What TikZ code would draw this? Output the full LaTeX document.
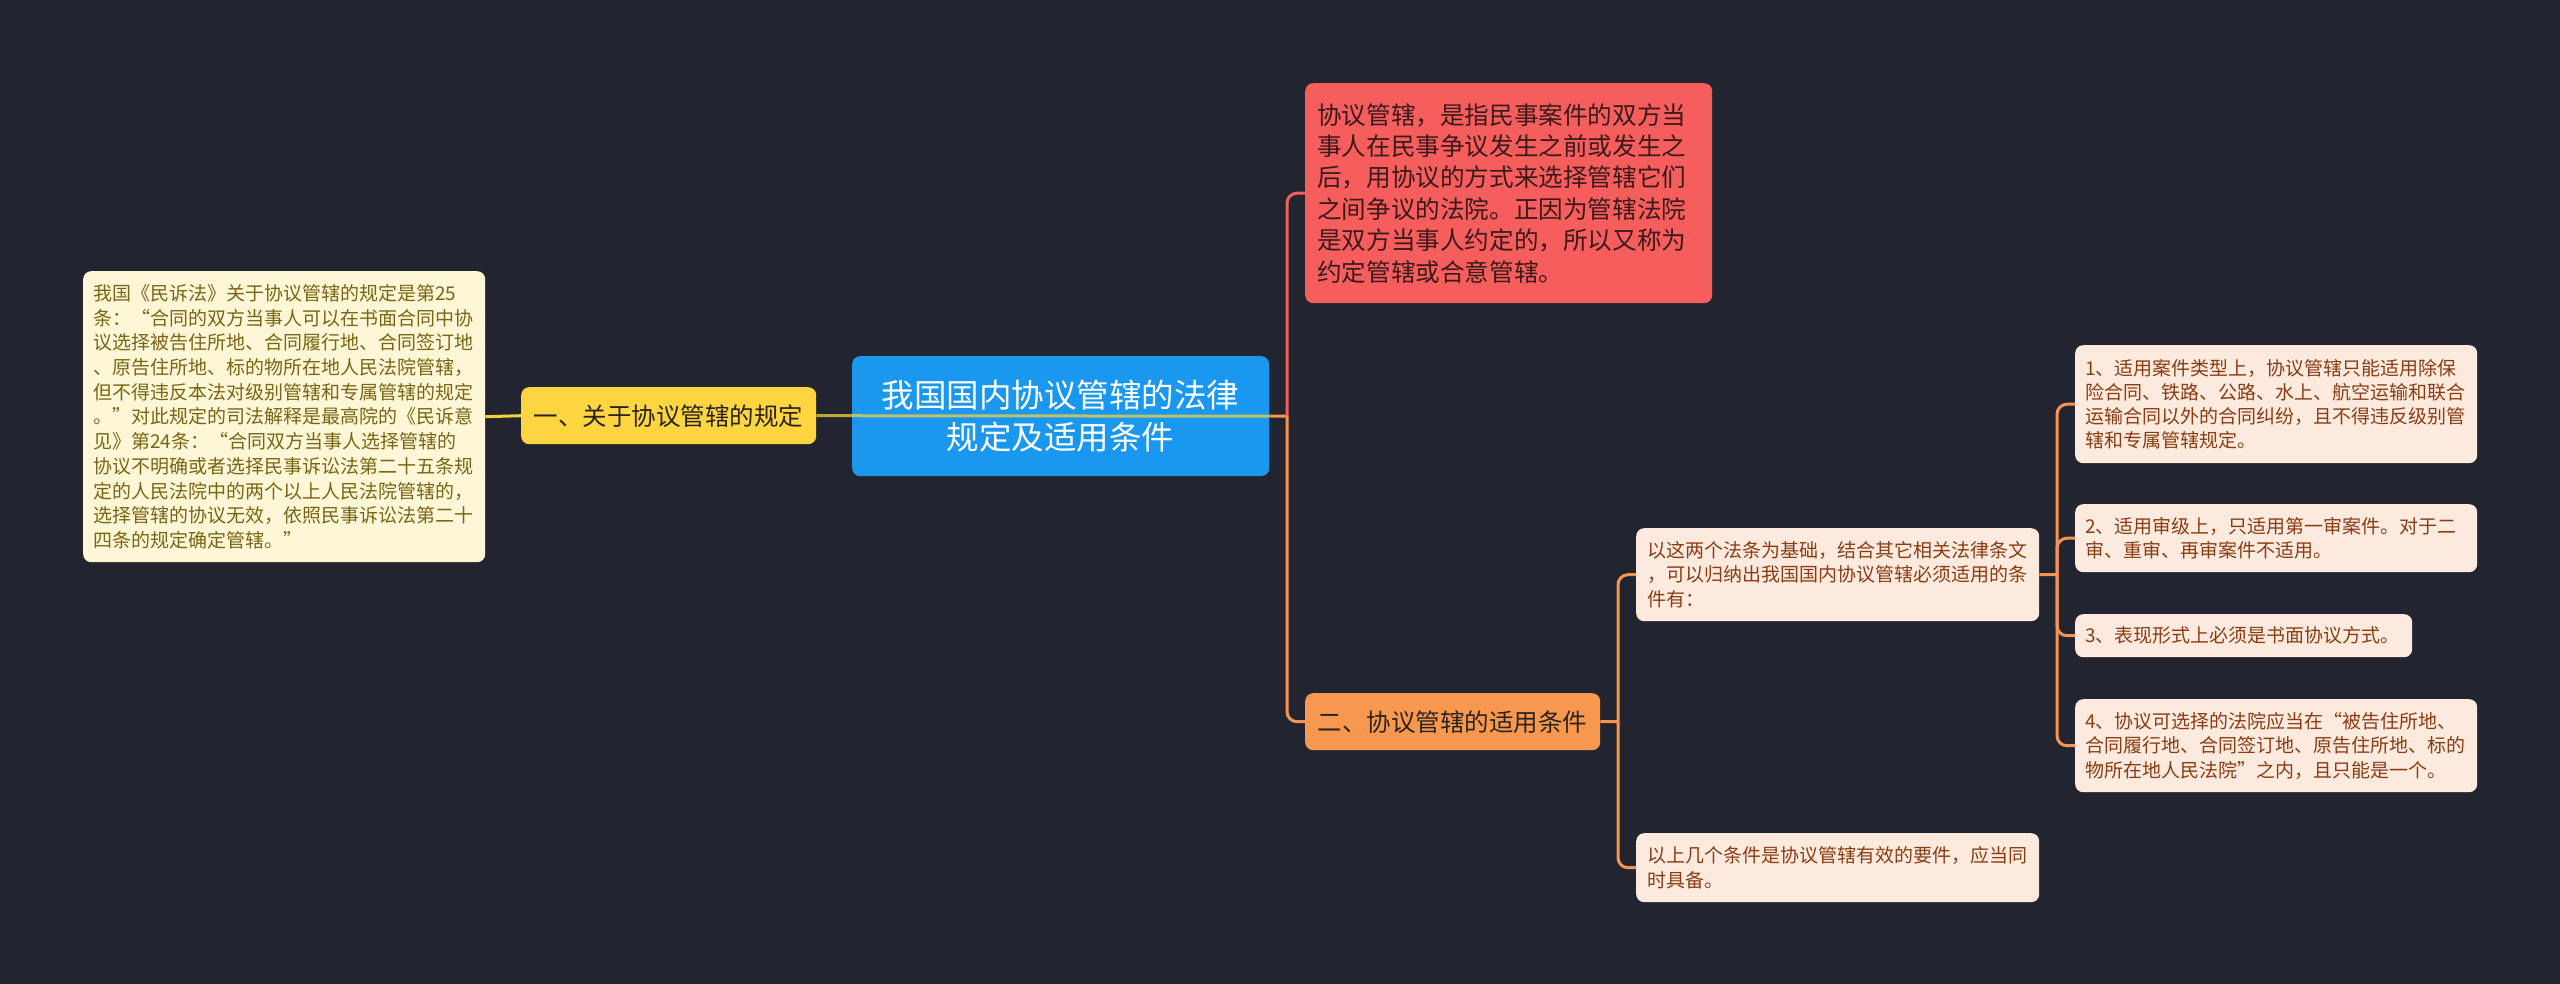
\documentclass[tikz,border=0pt]{standalone}
\usepackage{fontspec}
\setmainfont{Noto Sans CJK SC}
\definecolor{bg}{HTML}{22252F}
\definecolor{cfill}{HTML}{1A97EE}
\definecolor{rfill}{HTML}{F65E5E}
\definecolor{rtext}{HTML}{3A1A1A}
\definecolor{yfill}{HTML}{FDD540}
\definecolor{ofill}{HTML}{F8984F}
\definecolor{dtext}{HTML}{2A2420}
\definecolor{lfill}{HTML}{FDEADF}
\definecolor{ltext}{HTML}{8A3C12}
\definecolor{pfill}{HTML}{FDF7D8}
\definecolor{ptext}{HTML}{7A6514}
\definecolor{yline}{HTML}{F5D23C}
\definecolor{rline}{HTML}{F0605C}
\definecolor{oline}{HTML}{F7944F}
\newcommand{\myfs}[2]{\fontsize{#1}{#2}\selectfont}
\begin{document}
\begin{tikzpicture}[x=1pt,y=-1pt,
  box/.style={anchor=north west, rounded corners=8pt, inner sep=0pt, align=left},
  leafbox/.style={box, fill=lfill, text=ltext, font=\myfs{19}{24.3}},
  conn/.style={line width=3pt},
  ylk/.style={conn, draw=yline},
  rlk/.style={conn, draw=rline, rounded corners=10pt},
  olk/.style={conn, draw=oline, rounded corners=10pt}]
\useasboundingbox (0,0) rectangle (2560,984);
\fill[bg] (0,0) rectangle (2560,984);

% nodes
\node[box, fill=pfill, text=ptext, font=\myfs{19}{24.7}, minimum width=402pt, minimum height=291pt, text width=382pt] (lb) at (83,271)
 {我国《民诉法》关于协议管辖的规定是第25\\条：“合同的双方当事人可以在书面合同中协\\议选择被告住所地、合同履行地、合同签订地\\、原告住所地、标的物所在地人民法院管辖，\\但不得违反本法对级别管辖和专属管辖的规定\\。”对此规定的司法解释是最高院的《民诉意\\见》第24条：“合同双方当事人选择管辖的\\协议不明确或者选择民事诉讼法第二十五条规\\定的人民法院中的两个以上人民法院管辖的，\\选择管辖的协议无效，依照民事诉讼法第二十\\四条的规定确定管辖。”};

\node[box, fill=yfill, text=dtext, font=\myfs{24.5}{30}, minimum width=295pt, minimum height=57pt, align=center] (y) at (521,387) {一、关于协议管辖的规定};

\node[box, fill=cfill, text=white, font=\myfs{32.5}{42}, minimum width=417pt, minimum height=120pt, align=center] (c) at (852,356) {我国国内协议管辖的法律\\规定及适用条件};

\node[box, fill=rfill, text=rtext, font=\myfs{24.6}{31.4}, minimum width=407pt, minimum height=220pt, text width=383pt] (r) at (1305,83)
 {协议管辖，是指民事案件的双方当\\事人在民事争议发生之前或发生之\\后，用协议的方式来选择管辖它们\\之间争议的法院。正因为管辖法院\\是双方当事人约定的，所以又称为\\约定管辖或合意管辖。};

\node[box, fill=ofill, text=dtext, font=\myfs{24.5}{30}, minimum width=295pt, minimum height=57pt, align=center] (o) at (1305,693) {二、协议管辖的适用条件};

\node[leafbox, minimum width=403pt, minimum height=93pt, text width=381pt] (n1) at (1636,528)
 {以这两个法条为基础，结合其它相关法律条文\\，可以归纳出我国国内协议管辖必须适用的条\\件有：};
\node[leafbox, minimum width=403pt, minimum height=69pt, text width=381pt] (n2) at (1636,833)
 {以上几个条件是协议管辖有效的要件，应当同\\时具备。};

\node[leafbox, minimum width=402pt, minimum height=118pt, text width=382pt] (l1) at (2075,345)
 {1、适用案件类型上，协议管辖只能适用除保\\险合同、铁路、公路、水上、航空运输和联合\\运输合同以外的合同纠纷，且不得违反级别管\\辖和专属管辖规定。};
\node[leafbox, minimum width=402pt, minimum height=68pt, text width=382pt] (l2) at (2075,504)
 {2、适用审级上，只适用第一审案件。对于二\\审、重审、再审案件不适用。};
\node[leafbox, minimum width=337pt, minimum height=43pt, text width=317pt] (l3) at (2075,614)
 {3、表现形式上必须是书面协议方式。};
\node[leafbox, minimum width=402pt, minimum height=93pt, text width=382pt] (l4) at (2075,699)
 {4、协议可选择的法院应当在“被告住所地、\\合同履行地、合同签订地、原告住所地、标的\\物所在地人民法院”之内，且只能是一个。};

% junctions
\coordinate (j1) at (1287,416);
\coordinate (j2) at (1618,721.5);
\coordinate (j3) at (2057,574.5);

% connectors
\draw[ylk] (lb.east) -- (y.west);
\draw[ylk, opacity=0.75] (y.east) -- (c.east);
\draw[conn, draw=oline] (c.east) -- (j1);
\draw[rlk] (j1) |- (r.west);
\draw[olk] (j1) |- (o.west);
\draw[conn, draw=oline] (o.east) -- (j2);
\draw[olk] (j2) |- (n1.west);
\draw[olk] (j2) |- (n2.west);
\draw[conn, draw=oline] (n1.east) -- (j3);
\draw[olk] (j3) |- (l1.west);
\draw[olk] (j3) |- (l2.west);
\draw[olk] (j3) |- (l3.west);
\draw[olk] (j3) |- (l4.west);
\end{tikzpicture}
\end{document}
